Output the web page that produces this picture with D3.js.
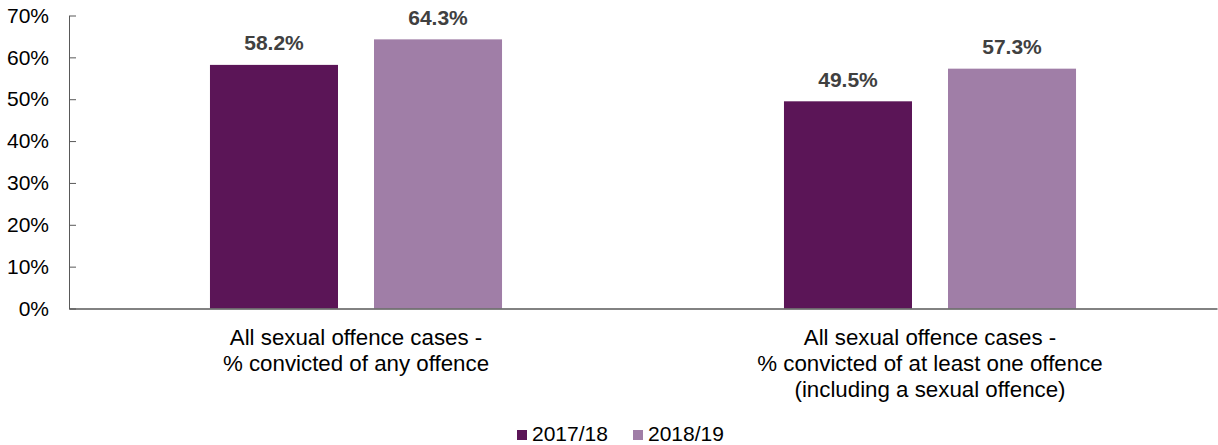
<!DOCTYPE html>
<html>
<head>
<meta charset="utf-8">
<script src="https://cdn.jsdelivr.net/npm/d3@7/dist/d3.min.js"></script>
<style>
  html, body { margin: 0; padding: 0; background: #fff; }
  svg { display: block; font-family: "Liberation Sans", Arial, sans-serif; }
</style>
</head>
<body>
<svg id="chart" width="1218" height="445"></svg>
<script>
const categories = [
  ["All sexual offence cases -", "% convicted of any offence"],
  ["All sexual offence cases -", "% convicted of at least one offence", "(including a sexual offence)"]
];
const seriesNames = ["2017/18", "2018/19"];
const values2017 = [58.2, 49.5];
const values2018 = [64.3, 57.3];
const yTicks = [0, 10, 20, 30, 40, 50, 60, 70];
const colors = ["#5b1557", "#a07ea7"];

const svg = d3.select("#chart");
const mLeft = 69, mRight = 1217, mTop = 15.5, mBottom = 308.5;

const catKeys = categories.map((c, i) => i);
const x0 = d3.scaleBand().domain(catKeys).range([mLeft, mRight]).paddingInner(0).paddingOuter(0);
const bw = x0.bandwidth();
const x1 = d3.scaleBand().domain([0, 1]).range([bw * 0.2456, bw * 0.7544]).paddingInner(0.2195).paddingOuter(0);
const y = d3.scaleLinear().domain([0, 70]).range([mBottom, mTop]);

const seriesVals = [values2017, values2018];

// y axis
const yAxis = d3.axisLeft(y).tickValues(yTicks).tickSizeInner(-7).tickSizeOuter(0).tickFormat(d => d + "%");
const yg = svg.append("g").attr("transform", `translate(${mLeft},0)`).call(yAxis);
yg.select(".domain").attr("stroke", "#595959").attr("stroke-width", 1);
yg.selectAll(".tick line").attr("stroke", "#595959");
yg.selectAll(".tick text").attr("x", -20).attr("font-size", 21).attr("fill", "#000").attr("font-family", "Liberation Sans, Arial, sans-serif");

// bars
catKeys.forEach(ci => {
  seriesVals.forEach((vals, si) => {
    const v = vals[ci];
    const bx = x0(ci) + x1(si);
    svg.append("rect")
      .attr("x", bx).attr("y", y(v))
      .attr("width", x1.bandwidth()).attr("height", y(0) - y(v))
      .attr("fill", colors[si]);
    svg.append("text")
      .attr("x", bx + x1.bandwidth() / 2).attr("y", y(v) - 14.5)
      .attr("text-anchor", "middle").attr("font-size", 21).attr("font-weight", "bold")
      .attr("fill", "#404040").text(v.toFixed(1) + "%");
  });
});

// x axis
const xAxis = d3.axisBottom(x0).tickSize(0).tickFormat("");
const xg = svg.append("g").attr("transform", `translate(0,${mBottom})`).call(xAxis);
xg.select(".domain").attr("stroke", "#595959").attr("stroke-width", 1.6);

// category labels
catKeys.forEach(ci => {
  const t = svg.append("text").attr("text-anchor", "middle").attr("font-size", 22.3).attr("fill", "#000");
  categories[ci].forEach((line, li) => {
    t.append("tspan").attr("x", x0(ci) + bw / 2).attr("y", 345 + li * 25.8).text(line);
  });
});

// legend
const legendItems = [{ x: 517, tx: 532 }, { x: 633, tx: 648 }];
seriesNames.forEach((name, i) => {
  svg.append("rect").attr("x", legendItems[i].x).attr("y", 430).attr("width", 10).attr("height", 10).attr("fill", colors[i]);
  svg.append("text").attr("x", legendItems[i].tx).attr("y", 440.5).attr("font-size", 21).attr("fill", "#000").text(name);
});
</script>
</body>
</html>
